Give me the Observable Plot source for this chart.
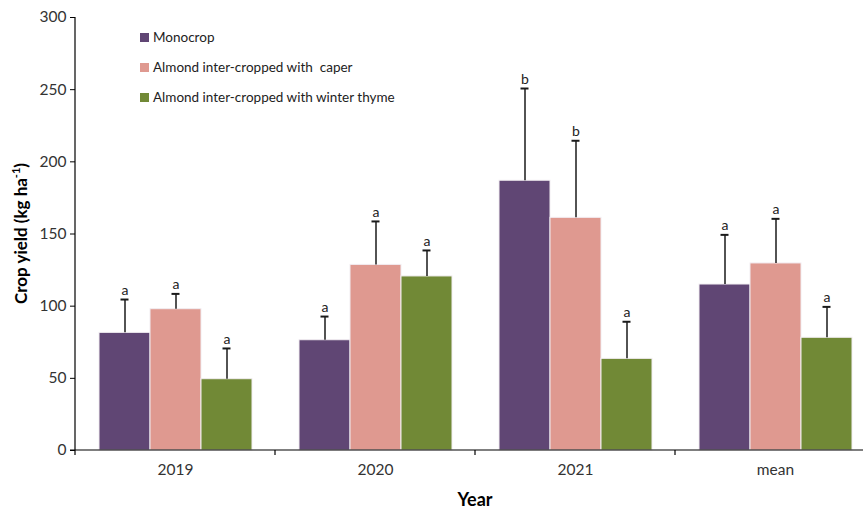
<!DOCTYPE html>
<html>
<head>
<meta charset="utf-8">
<script src="https://cdn.jsdelivr.net/npm/d3@7"></script>
<script src="https://cdn.jsdelivr.net/npm/@observablehq/plot@0.6"></script>
<style>
  html, body { margin: 0; padding: 0; background: #fff; overflow: hidden; }
  #wrap { position: relative; width: 863px; height: 511px; overflow: hidden; font-family: Lato, "Open Sans", sans-serif; }
  #legend { position: absolute; left: 140px; top: 22px; font-size: 13.5px; color: #222; }
  #legend .row { display: flex; align-items: center; height: 30px; margin: 0; }
  #legend .sw { width: 9px; height: 9px; margin-right: 4px; }
</style>
</head>
<body>
<div id="wrap"></div>
<script>
const years = ["2019", "2020", "2021", "mean"];
const series = ["Monocrop", "Almond inter-cropped with  caper", "Almond inter-cropped with winter thyme"];
const colors = ["#604674", "#df9990", "#718936"];
const monoValues = [81.5, 76.4, 186.9, 115.0];
const caperValues = [97.9, 128.6, 161.2, 129.6];
const thymeValues = [49.4, 120.6, 63.5, 78.1];
const monoErr = [23.1, 16.4, 63.9, 34.4];
const caperErr = [10.6, 30.1, 53.4, 30.9];
const thymeErr = [21.3, 18.0, 25.7, 21.4];
const monoLetters = ["a", "a", "b", "a"];
const caperLetters = ["a", "a", "b", "a"];
const thymeLetters = ["a", "a", "a", "a"];
const yTicks = [0, 50, 100, 150, 200, 250, 300];

const valueSets = [monoValues, caperValues, thymeValues];
const errSets = [monoErr, caperErr, thymeErr];
const letterSets = [monoLetters, caperLetters, thymeLetters];
const data = [];
years.forEach((year, i) => {
  series.forEach((s, j) => {
    const v = valueSets[j][i], e = errSets[j][i];
    data.push({year, series: s, value: v, top: v + e, letter: letterSets[j][i]});
  });
});

const font = "Lato, 'Open Sans', sans-serif";
const chart = Plot.plot({
  width: 863,
  height: 511,
  marginLeft: 75,
  marginRight: -12,
  marginTop: 17,
  marginBottom: 61,
  style: {fontFamily: font, background: "white", overflow: "visible"},
  fx: {domain: years, padding: 0, label: null},
  x: {domain: series, paddingInner: 0, paddingOuter: 0.46, axis: null},
  y: {domain: [0, 300], label: null},
  color: {domain: series, range: colors},
  marks: [
    Plot.axisY({ticks: yTicks, tickSize: 5, tickPadding: 4, fontSize: 15.5, color: "#333", stroke: "#000", label: null}),
    Plot.axisFx({anchor: "bottom", tickSize: 0, tickPadding: 13, fontSize: 15.5, color: "#333", label: null}),
    Plot.barY(data, {fx: "year", x: "series", y: "value", fill: "series", stroke: "#f2eef2", strokeWidth: 1}),
    Plot.ruleX(data, {fx: "year", x: "series", y1: "value", y2: "top", stroke: "#1a1a1a", strokeWidth: 1.5}),
    Plot.tickY(data, {fx: "year", x: "series", y: "top", stroke: "#1a1a1a", strokeWidth: 2, insetLeft: 21.5, insetRight: 21.5}),
    Plot.text(data, {fx: "year", x: "series", y: "top", text: "letter", dy: -9, fontSize: 14, fill: "#222", lineAnchor: "middle"})
  ]
});

const fx = chart.scale("fx");
const y = chart.scale("y");
const svg = d3.select(chart);
const y0 = y.apply(0), y300 = y.apply(300);
const xStart = fx.apply(years[0]);
const xEnd = fx.apply(years[years.length - 1]) + fx.step;
const g = svg.append("g").attr("stroke", "#000").attr("stroke-width", 1.2);
g.append("line").attr("x1", xStart).attr("x2", xStart).attr("y1", y0).attr("y2", y300);
g.append("line").attr("x1", xStart - 5).attr("x2", xEnd).attr("y1", y0).attr("y2", y0);
years.forEach(yr => {
  const bx = fx.apply(yr);
  g.append("line").attr("x1", bx).attr("x2", bx).attr("y1", y0).attr("y2", y0 + 5);
});
g.append("line").attr("x1", xEnd).attr("x2", xEnd).attr("y1", y0).attr("y2", y0 + 5);

svg.append("text")
  .attr("x", (xStart + xEnd) / 2).attr("y", 506)
  .attr("text-anchor", "middle").attr("font-size", 18).attr("font-weight", "bold")
  .attr("fill", "#000").attr("font-family", font)
  .text("Year");

const yt = svg.append("text")
  .attr("transform", `translate(27,${(y0 + y300) / 2}) rotate(-90)`)
  .attr("text-anchor", "middle").attr("font-size", 17).attr("font-weight", "bold")
  .attr("fill", "#000").attr("font-family", font);
yt.append("tspan").text("Crop yield (kg ha");
yt.append("tspan").attr("dy", -7).attr("font-size", 11).text("-1");
yt.append("tspan").attr("dy", 7).text(")");

const wrap = document.getElementById("wrap");
wrap.appendChild(chart);
const legend = document.createElement("div");
legend.id = "legend";
series.forEach((s, j) => {
  const row = document.createElement("div");
  row.className = "row";
  const sw = document.createElement("span");
  sw.className = "sw";
  sw.style.background = colors[j];
  const label = document.createElement("span");
  label.textContent = s;
  label.style.whiteSpace = "pre";
  row.appendChild(sw);
  row.appendChild(label);
  legend.appendChild(row);
});
wrap.appendChild(legend);
</script>
</body>
</html>
